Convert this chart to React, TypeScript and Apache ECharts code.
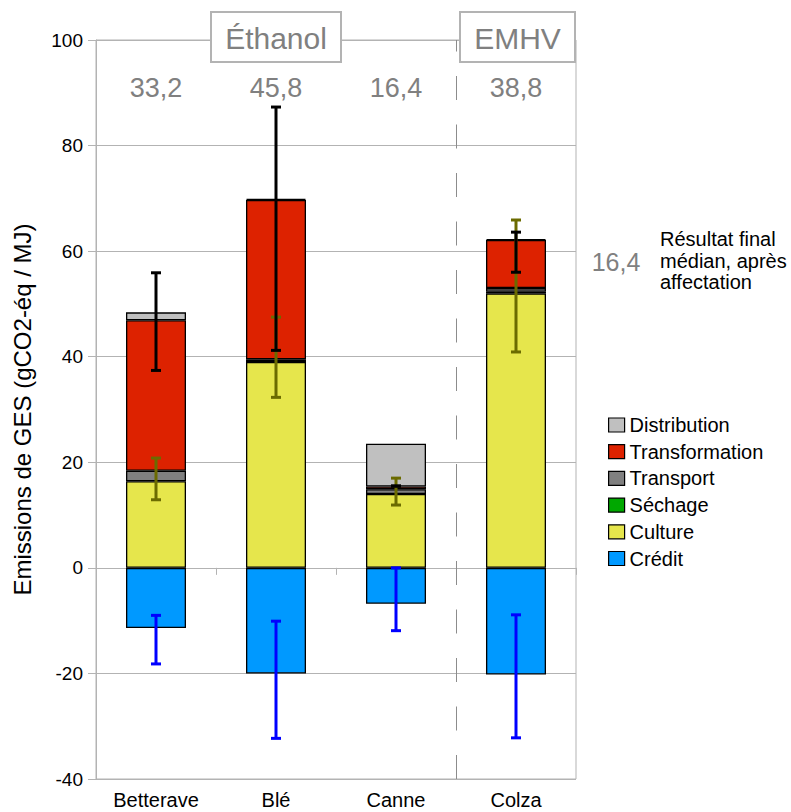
import React, { useEffect, useRef } from "react";
import * as echarts from "echarts";

// Filières et postes d'émissions (gCO2-éq / MJ)
const categories = ["Betterave", "Blé", "Canne", "Colza"];
const culture = [16.4, 39.0, 14.0, 52.0];
const sechage = [0, 0, 0, 0.3];
const transport = [2.0, 0.5, 0.9, 0.7];
const transformation = [28.5, 30.2, 0.5, 9.1];
const distribution = [1.5, 0.2, 8.1, 0.2];
const credit = [-11.4, -20.0, -6.8, -20.2];

// Plages de variation [bas, haut]
const cultureRange = [[12.9, 20.8], [32.3, 47.5], [11.9, 17.0], [40.9, 65.9]];
const totalRange = [[37.4, 55.9], [41.2, 87.3], [15.5, 15.5], [56.0, 63.6]];
const creditRange = [[-18.2, -9.0], [-32.3, -10.1], [-11.9, 0], [-32.2, -8.9]];

// Résultat final médian, après affectation
const finalResults = [33.2, 45.8, 16.4, 38.8];

const yMin = -40;
const yMax = 100;
const yInterval = 20;

const legendOrder = ["Distribution", "Transformation", "Transport", "Séchage", "Culture", "Crédit"];

const FONT = '"Liberation Sans", Arial, sans-serif';
const GRAY_TEXT = "#808080";
const GRID_GRAY = "#b3b3b3";
const LABEL_LEVEL = 91;
const EMHV_START = 3;

const fmt = (v: number) => v.toFixed(1).replace(".", ",");

const errorBar = (color: string) => (_params: any, api: any) => {
  const i = api.value(0);
  const lo = api.coord([i, api.value(1)]);
  const hi = api.coord([i, api.value(2)]);
  const x = lo[0];
  const half = 5;
  const style = { stroke: color, lineWidth: 3 };
  return {
    type: "group",
    children: [
      { type: "line", shape: { x1: x, y1: lo[1], x2: x, y2: hi[1] }, style },
      { type: "line", shape: { x1: x - half, y1: hi[1], x2: x + half, y2: hi[1] }, style },
      { type: "line", shape: { x1: x - half, y1: lo[1], x2: x + half, y2: lo[1] }, style },
    ],
  };
};

// zero entries are left out of the stack so they don't draw an extra outline
const barSeries = (name: string, data: number[], color: string) => ({
  name,
  type: "bar",
  stack: "total",
  barWidth: "50%",
  data: data.map((v) => (v === 0 ? "-" : v)),
  itemStyle: { color, borderColor: "#000", borderWidth: 1.3 },
  emphasis: { disabled: true },
  z: 2,
});

export default function App() {
  const ref = useRef<HTMLDivElement>(null);

  useEffect(() => {
    if (!ref.current) return;
    const chart = echarts.init(ref.current, undefined, { renderer: "svg" });

    const option: any = {
      animation: false,
      textStyle: { fontFamily: FONT },
      grid: {
        left: 96,
        right: 215,
        top: 40,
        bottom: 33,
        show: true,
        borderColor: GRID_GRAY,
        borderWidth: 1,
      },
      legend: {
        data: legendOrder,
        orient: "vertical",
        left: 608,
        top: 415,
        padding: 0,
        itemWidth: 16,
        itemHeight: 14,
        itemGap: 6.7,
        icon: "rect",
        selectedMode: false,
        itemStyle: { borderColor: "#000", borderWidth: 1.2 },
        textStyle: { fontSize: 20, color: "#000", fontFamily: FONT },
      },
      xAxis: {
        type: "category",
        data: categories,
        axisLine: { lineStyle: { color: GRID_GRAY, width: 1 } },
        axisTick: { show: true, length: 7, lineStyle: { color: GRID_GRAY } },
        axisLabel: { fontSize: 20, color: "#000", margin: 11, fontFamily: FONT },
      },
      yAxis: {
        type: "value",
        min: yMin,
        max: yMax,
        interval: yInterval,
        name: "Emissions de GES (gCO2-éq / MJ)",
        nameLocation: "middle",
        nameRotate: 90,
        nameGap: 62,
        nameTextStyle: { fontSize: 24, color: "#000", fontFamily: FONT },
        axisLine: { show: true, lineStyle: { color: GRID_GRAY, width: 1 } },
        axisTick: { show: true, length: 8, lineStyle: { color: GRID_GRAY } },
        axisLabel: { fontSize: 19, color: "#000", margin: 13, fontFamily: FONT },
        splitLine: { lineStyle: { color: GRID_GRAY, width: 1 } },
      },
      series: [
        barSeries("Culture", culture, "#e6e64c"),
        barSeries("Séchage", sechage, "#00a800"),
        barSeries("Transport", transport, "#808080"),
        barSeries("Transformation", transformation, "#dd2200"),
        barSeries("Distribution", distribution, "#c0c0c0"),
        barSeries("Crédit", credit, "#0099ff"),
        {
          name: "sep",
          type: "custom",
          silent: true,
          z: 1,
          data: [[EMHV_START, 0]],
          encode: { x: 0, y: 1 },
          renderItem: (_p: any, api: any) => {
            const i = api.value(0);
            const b = api.coord([i, yMin]);
            const t = api.coord([i, yMax]);
            const w = api.size([1, 0])[0];
            const x = Math.round(b[0] - w / 2) + 0.5;
            return {
              type: "line",
              shape: { x1: x, y1: b[1], x2: x, y2: t[1] },
              style: { stroke: "#8c8c8c", lineWidth: 1, lineDash: [24, 24.5] },
            };
          },
        },
        {
          name: "errCulture",
          type: "custom",
          silent: true,
          z: 3,
          data: cultureRange.map((r, i) => [i, r[0], r[1]]),
          encode: { x: 0, y: [1, 2] },
          renderItem: errorBar("#6b6b00"),
        },
        {
          name: "errTotal",
          type: "custom",
          silent: true,
          z: 4,
          data: totalRange.map((r, i) => [i, r[0], r[1]]),
          encode: { x: 0, y: [1, 2] },
          renderItem: errorBar("#000000"),
        },
        {
          name: "errCredit",
          type: "custom",
          silent: true,
          z: 4,
          data: creditRange.map((r, i) => [i, r[0], r[1]]),
          encode: { x: 0, y: [1, 2] },
          renderItem: errorBar("#0000ff"),
        },
        {
          name: "final",
          type: "custom",
          silent: true,
          z: 5,
          data: finalResults.map((v, i) => [i, v]),
          encode: { x: 0, y: 1 },
          renderItem: (_p: any, api: any) => {
            const pt = api.coord([api.value(0), LABEL_LEVEL]);
            return {
              type: "text",
              x: pt[0],
              y: pt[1],
              style: {
                text: fmt(api.value(1)),
                fill: GRAY_TEXT,
                fontSize: 27,
                fontFamily: FONT,
                align: "center",
                verticalAlign: "middle",
              },
            };
          },
        },
      ],
      graphic: [
        {
          type: "rect",
          shape: { x: 211, y: 12, width: 130, height: 50 },
          style: { fill: "#fff", stroke: GRID_GRAY, lineWidth: 2 },
          z: 10,
        },
        {
          type: "text",
          x: 276,
          y: 38,
          style: { text: "Éthanol", fill: GRAY_TEXT, fontSize: 30, fontFamily: FONT, align: "center", verticalAlign: "middle" },
          z: 11,
        },
        {
          type: "rect",
          shape: { x: 460, y: 12, width: 115, height: 50 },
          style: { fill: "#fff", stroke: GRID_GRAY, lineWidth: 2 },
          z: 10,
        },
        {
          type: "text",
          x: 517.5,
          y: 38,
          style: { text: "EMHV", fill: GRAY_TEXT, fontSize: 30, fontFamily: FONT, align: "center", verticalAlign: "middle" },
          z: 11,
        },
        {
          type: "text",
          x: 616,
          y: 262,
          style: { text: "16,4", fill: GRAY_TEXT, fontSize: 25, fontFamily: FONT, align: "center", verticalAlign: "middle" },
        },
        {
          type: "text",
          x: 660,
          y: 238.5,
          style: { text: "Résultat final", fill: "#000", fontSize: 20, fontFamily: FONT, align: "left", verticalAlign: "middle" },
        },
        {
          type: "text",
          x: 660,
          y: 260.5,
          style: { text: "médian, après", fill: "#000", fontSize: 20, fontFamily: FONT, align: "left", verticalAlign: "middle" },
        },
        {
          type: "text",
          x: 660,
          y: 282,
          style: { text: "affectation", fill: "#000", fontSize: 20, fontFamily: FONT, align: "left", verticalAlign: "middle" },
        },
      ],
    };

    chart.setOption(option);
    return () => chart.dispose();
  }, []);

  return (
    <div
      ref={ref}
      style={{ position: "fixed", left: 0, top: 0, width: 791, height: 812, background: "#fff" }}
    />
  );
}
